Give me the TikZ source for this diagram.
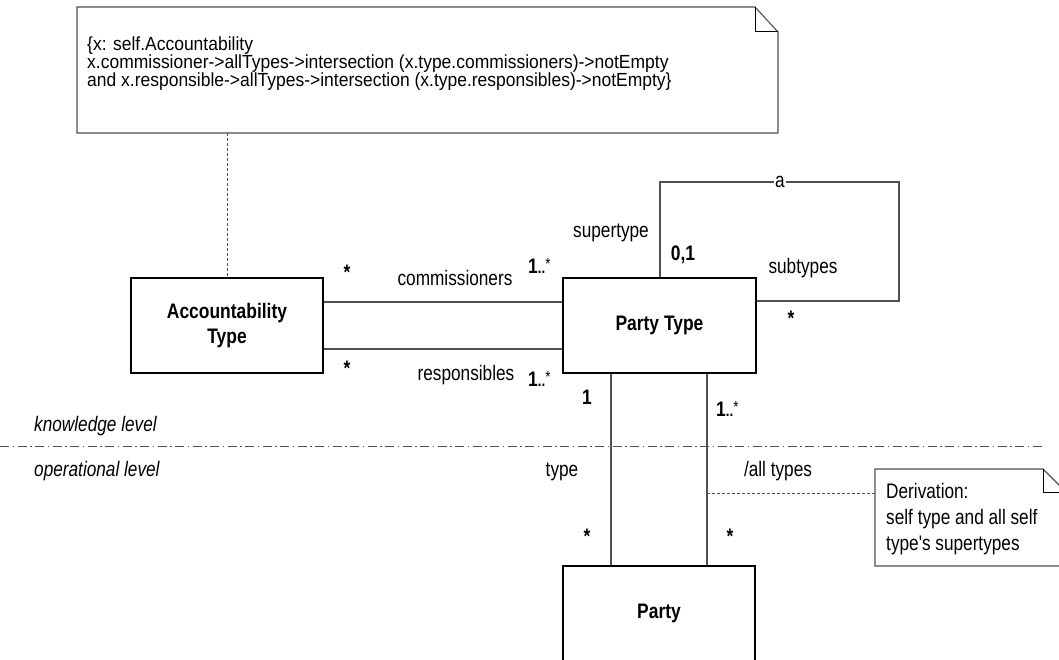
\documentclass[tikz,border=0pt]{standalone}
\usepackage{fontspec}
\setmainfont{Liberation Sans}[FakeStretch=0.92]
\newfontfamily\narrowfont{Liberation Sans}[FakeStretch=0.82]
\newfontfamily\boxfont{Liberation Sans}[FakeStretch=0.83]
\usetikzlibrary{calc}
\definecolor{linegray}{HTML}{505050}
\newcommand\manymult{{\bfseries 1}{\fontsize{16}{16}\selectfont\bfseries..\raisebox{3.5pt}{\mdseries*}}}
\tikzset{
  notetxt/.style={font=\fontsize{19}{19}\selectfont, inner sep=0pt, anchor=base west},
  lbl/.style={font=\narrowfont\fontsize{21}{21}\selectfont, inner sep=0pt, anchor=base},
  lblw/.style={font=\narrowfont\fontsize{21}{21}\selectfont, inner sep=0pt, anchor=base west},
  lvl/.style={font=\narrowfont\fontsize{21}{21}\selectfont\itshape, inner sep=0pt, anchor=base west},
  mult/.style={font=\boxfont\fontsize{21}{21}\selectfont\bfseries, inner sep=0pt, anchor=base},
  multw/.style={font=\boxfont\fontsize{21}{21}\selectfont, inner sep=0pt, anchor=base west},
  cls/.style={draw=black, line width=1.3pt, minimum width=192pt, minimum height=95pt, inner sep=0pt,
    font=\boxfont\fontsize{21}{25}\selectfont\bfseries, align=center},
  assoc/.style={draw=linegray, line width=1.1pt},
  notebox/.style={draw=linegray, line width=1.1pt, fill=white},
  anchorline/.style={draw=linegray, line width=0.9pt, dash pattern=on 3pt off 2pt},
  levelline/.style={draw=linegray, line width=1pt, dash pattern=on 9pt off 3.5pt on 1.5pt off 3.5pt},
}
\begin{document}
\begin{tikzpicture}[x=1pt, y=-1pt]
\useasboundingbox (0,0) rectangle (1059,660);
\fill[white] (0,0) rectangle (1059,660);
\clip (0,0) rectangle (1059,660);

% top note
\draw[notebox] (77,7) -- (755,7) -- (778,32) -- (778,133) -- (77,133) -- cycle;
\draw[draw=black, line width=1pt] (755,7) -- (755,32) -- (778,32);
\coordinate (noteB) at (227,133);
\node[notetxt] (n1) at (87,51) {\{x: self.Accountability};
\node[notetxt] (n2) at (87,69) {x.commissioner->allTypes->intersection (x.type.commissioners)->notEmpty};
\node[notetxt] (n3) at (87,87) {and x.responsible->allTypes->intersection (x.type.responsibles)->notEmpty\}};

% classes
\node[cls] (acc) at (227,325.5) {Accountability\\Type};
\node[cls, minimum width=193pt] (pt) at (659.5,325.5) {Party Type};
\node[cls] (party) at (659,613.5) {Party};

\draw[anchorline] (noteB) -- (acc.north);

% associations
\coordinate (h1) at (0,302);
\coordinate (h2) at (0,349);
\draw[assoc] (acc.east |- h1) -- (pt.west |- h1);
\draw[assoc] (acc.east |- h2) -- (pt.west |- h2);

% self loop
\coordinate (la) at (660,182);
\coordinate (lb) at (899,301);
\draw[assoc] (pt.north -| la) -- (la) -| (lb) -- (pt.east |- lb);
\node[font=\narrowfont\fontsize{21}{21}\selectfont, fill=white, inner xsep=1pt, inner ysep=0pt, anchor=base] (aa) at (780,188) {a};

% verticals
\coordinate (v1) at (611,0);
\coordinate (v2) at (707,0);
\draw[assoc] (pt.south -| v1) -- (party.north -| v1);
\draw[assoc] (pt.south -| v2) -- (party.north -| v2);

% level line
\draw[levelline] (0,446) -- (1043,446);
\node[lvl] (kl) at (34,431) {knowledge level};
\node[lvl] (ol) at (34,476) {operational level};

% derivation note
\coordinate (dl) at (707,493);
\draw[notebox] (875,469) -- (1043,469) -- (1066,492) -- (1066,566) -- (875,566) -- cycle;
\draw[draw=black, line width=1pt] (1043,469) -- (1043,492) -- (1066,492);
\coordinate (dr) at (875,493);
\draw[anchorline] (dl) -- (dr);
\node[lblw] (d1) at (886,498) {Derivation:};
\node[lblw] (d2) at (886,524) {self type and all self};
\node[lblw] (d3) at (886,550) {type's supertypes};

% role names
\node[lbl] (rc) at (455,285) {commissioners};
\node[lbl] (rr) at (466,380) {responsibles};
\node[lbl] (rs) at (611,237) {supertype};
\node[lbl] (rsub) at (803,273) {subtypes};
\node[lbl] (rt) at (562,476) {type};
\node[lbl] (ra) at (778,476) {/all types};

% multiplicities
\node[mult] (m1) at (347,279) {*};
\node[mult] (m2) at (347,375) {*};
\node[multw] (m3) at (528,273) {\manymult};
\node[multw] (m4) at (528,386) {\manymult};
\node[mult] (m5) at (683,260) {0,1};
\node[mult] (m6) at (791,325) {*};
\node[mult] (m7) at (587,404) {1};
\node[multw] (m8) at (716,416) {\manymult};
\node[mult] (m9) at (587,543) {*};
\node[mult] (m10) at (730,543) {*};
\end{tikzpicture}
\end{document}
